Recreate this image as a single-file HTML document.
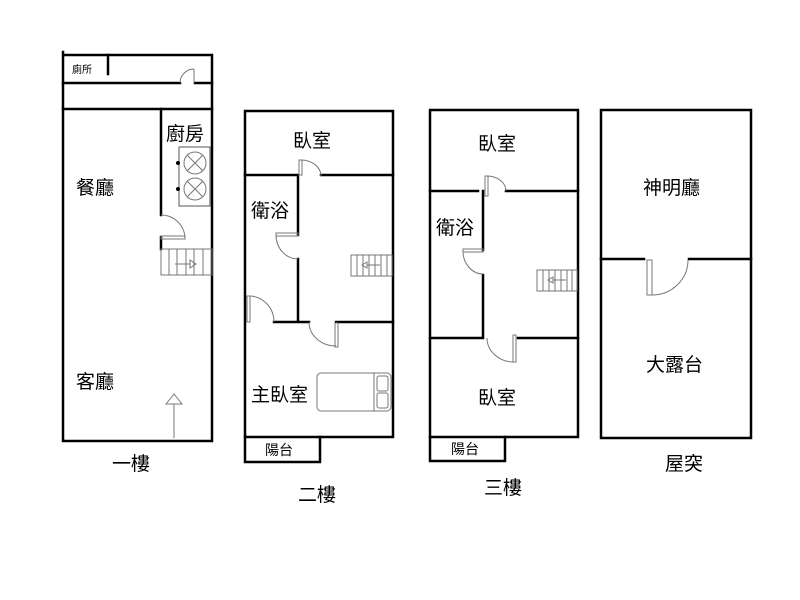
<!DOCTYPE html>
<html><head><meta charset="utf-8"><style>
html,body{margin:0;padding:0;background:#fff;}
svg{display:block}
text{font-family:"Liberation Sans","Noto Sans CJK TC",sans-serif;fill:#000}
</style></head><body>
<svg width="800" height="600" viewBox="0 0 800 600" xmlns="http://www.w3.org/2000/svg">
<g stroke="#000" stroke-width="2.5" fill="none" stroke-linecap="square">
<path d="M63 52 V441 H212 V55 H63"/>
<path d="M63 83 H180 M195 83 H212 M108 55 V74 M63 109 H212"/>
<path d="M161 109 V215 M161 237 V249"/>
<path d="M245 111 H393 V437 H245 Z"/>
<path d="M245 175 H298 M321 175 H393 M298 175 V235 M298 259 V322 M274 322 H309 M336 322 H393"/>
<path d="M245 437 V462 H320 V437"/>
<path d="M430 110 H578 V437 H430 Z"/>
<path d="M430 191 H478 M506 191 H578 M483 191 V250 M483 275 V338 M430 338 H482 M518 338 H578"/>
<path d="M430 437 V461 H505 V437"/>
<path d="M601 110 H751 V438 H601 Z"/>
<path d="M601 259 H644 M689 259 H751"/>
</g>
<g stroke="#777" stroke-width="1" fill="none">
<path d="M180 83 A14 14 0 0 1 194 69"/><path d="M194 69 V83"/>
<path d="M161 215 A24 24 0 0 1 185 239"/><rect x="161" y="236" width="24" height="3"/>
<rect x="161" y="249" width="51" height="26"/>
<path d="M169 249V275M177 249V275M186 249V275M194 249V275M203 249V275M175 264H190"/>
<path d="M190 260 L196 264 L190 268 Z"/>
<path d="M174 438 V404 M166 404 L174 394 L182 404 Z"/>
<rect x="179" y="147" width="31" height="59" stroke="#555"/>
<circle cx="195" cy="163" r="11"/><circle cx="195" cy="189" r="11"/>
<path d="M187 155L203 171M203 155L187 171M187 181L203 197M203 181L187 197"/>
<rect x="299" y="160" width="3" height="15"/><path d="M301 160 A20 16 0 0 1 321 176"/>
<rect x="276" y="233" width="22" height="3"/><path d="M276 235 A22 24 0 0 0 298 259"/>
<rect x="247" y="296" width="3" height="26"/><path d="M249 296 A25 26 0 0 1 274 322"/>
<rect x="335" y="323" width="3" height="24"/><path d="M309 322 A27 24 0 0 0 336 346"/>
<rect x="351" y="255" width="41" height="21"/>
<path d="M357 255V276M363 255V276M369 255V276M375 255V276M381 255V276M387 255V276M367 265H380"/>
<path d="M367 262 L362 265 L367 268 Z"/>
<rect x="317" y="373" width="74" height="38" rx="4"/>
<path d="M374 373 V411"/>
<rect x="377" y="376" width="11" height="15" rx="2"/><rect x="377" y="393" width="11" height="15" rx="2"/>
<rect x="485" y="176" width="3" height="20"/><path d="M487 176 A19 15 0 0 1 506 191"/>
<rect x="463" y="249" width="20" height="3"/><path d="M463 251 A20 23 0 0 0 483 274"/>
<rect x="513" y="335" width="3" height="27"/><path d="M487 338 A27 24 0 0 0 514 362"/>
<rect x="537" y="270" width="40" height="21"/>
<path d="M543 270V291M549 270V291M555 270V291M561 270V291M567 270V291M572 270V291M553 280H566"/>
<path d="M553 277 L548 280 L553 283 Z"/>
<rect x="647" y="260" width="5" height="35"/><path d="M652 295 A36 35 0 0 0 688 260"/>
</g>
<g fill="#000"><circle cx="178" cy="163" r="2"/><circle cx="178" cy="189" r="2"/></g>
<g font-size="19">
<text x="166" y="140">廚房</text>
<text x="76" y="194">餐廳</text>
<text x="76" y="388">客廳</text>
<text x="293" y="147">臥室</text>
<text x="251" y="217">衛浴</text>
<text x="251" y="401">主臥室</text>
<text x="478" y="150">臥室</text>
<text x="436" y="234">衛浴</text>
<text x="478" y="404">臥室</text>
<text x="643" y="194">神明廳</text>
<text x="646" y="371">大露台</text>
<text x="112" y="470">一樓</text>
<text x="298" y="501">二樓</text>
<text x="484" y="494">三樓</text>
<text x="665" y="470">屋突</text>
</g>
<g font-size="14" fill="#333">
<text x="265" y="455">陽台</text>
<text x="451" y="454">陽台</text>
</g>
<text x="72" y="73" font-size="10" fill="#444">廁所</text>
</svg>
</body></html>
